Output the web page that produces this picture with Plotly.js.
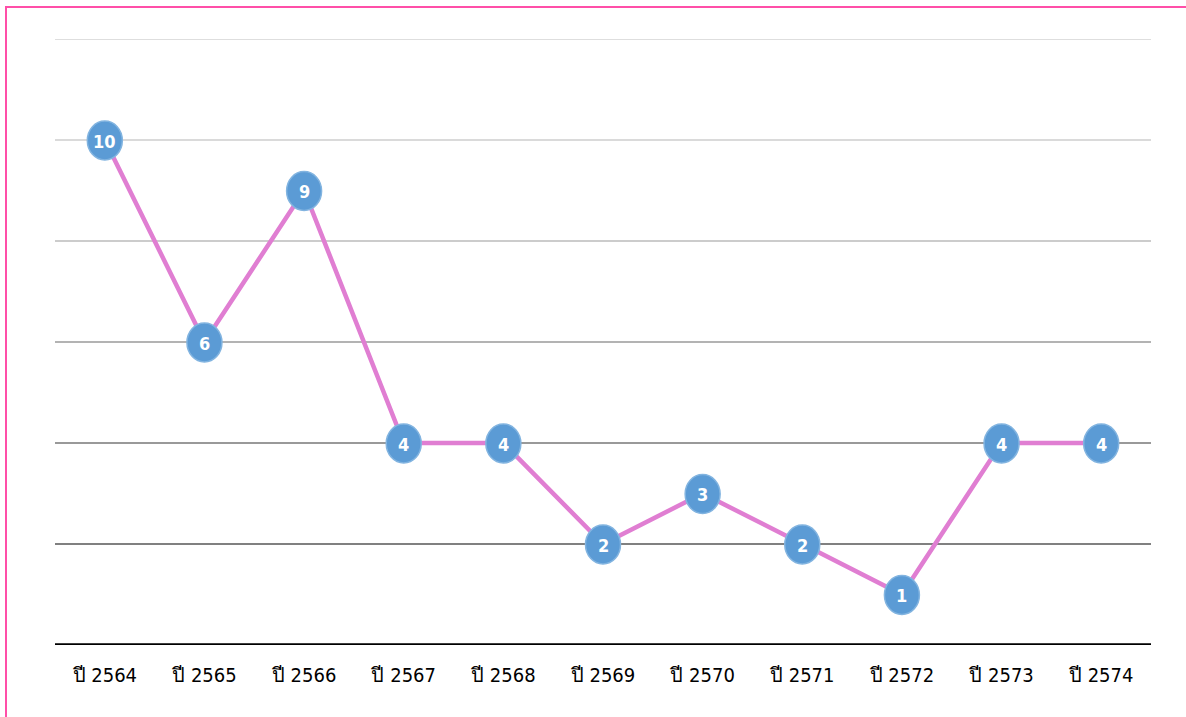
<!DOCTYPE html>
<html>
<head>
<meta charset="utf-8">
<script src="https://cdn.plot.ly/plotly-3.0.1.min.js"></script>
<style>
html,body{margin:0;padding:0;background:#fff;}
#wrap{position:absolute;left:0;top:0;width:1186px;height:717px;}
#chart{position:absolute;left:0;top:0;width:1186px;height:717px;}
#frame{position:absolute;left:5px;top:6px;width:1181px;height:711px;border-top:2px solid #ff4fa8;border-left:2px solid #ff4fa8;pointer-events:none;}
</style>
</head>
<body>
<div id="wrap"><div id="chart"></div><div id="frame"></div></div>
<script>
const categories = ["ปี 2564","ปี 2565","ปี 2566","ปี 2567","ปี 2568","ปี 2569","ปี 2570","ปี 2571","ปี 2572","ปี 2573","ปี 2574"];
const values = [10, 6, 9, 4, 4, 2, 3, 2, 1, 4, 4];
const gridValues = [2, 4, 6, 8, 10, 12];
const gridColors = ["#808080", "#999999", "#b3b3b3", "#cccccc", "#dadada", "#dedede"];

const shapes = gridValues.map((v, i) => ({
  type: "line", xref: "paper", yref: "y", x0: 0, x1: 1, y0: v, y1: v,
  line: {color: gridColors[i], width: 2}, layer: "below"
}));
shapes.push({type: "line", xref: "paper", yref: "y", x0: 0, x1: 1, y0: 0, y1: 0,
  line: {color: "#000000", width: 3.5}, layer: "above"});

// elliptical point markers, anchored at each data point
values.forEach((v, i) => {
  shapes.push({
    type: "circle", xref: "x", yref: "y",
    xsizemode: "pixel", ysizemode: "pixel",
    xanchor: categories[i], yanchor: v,
    x0: -17.5, x1: 17.5, y0: -20, y1: 19,
    fillcolor: "#5b9bd5", line: {color: "#82b4e0", width: 1.5}, layer: "above"
  });
});

const annotations = values.map((v, i) => ({
  x: categories[i], y: v, xref: "x", yref: "y", text: "<b>" + v + "</b>",
  showarrow: false, yshift: -1,
  font: {color: "#ffffff", size: 18, family: "'DejaVu Sans Condensed', 'Liberation Sans', sans-serif"}
}));

const trace = {
  x: categories, y: values, type: "scatter", mode: "lines",
  line: {color: "#e07ed2", width: 4.5},
  cliponaxis: false, hoverinfo: "skip"
};

const layout = {
  width: 1186, height: 717,
  margin: {l: 55, r: 35, t: 39, b: 72},
  paper_bgcolor: "#ffffff", plot_bgcolor: "#ffffff",
  showlegend: false,
  xaxis: {type: "category", range: [-0.5, 10.5], showgrid: false, zeroline: false, showline: false,
    ticks: "", ticklabelstandoff: 16,
    tickfont: {size: 20, color: "#000000", family: "'Liberation Sans Narrow', 'DejaVu Sans Condensed', sans-serif"}},
  yaxis: {range: [0, 12], showgrid: false, zeroline: false, showline: false, showticklabels: false, ticks: ""},
  shapes: shapes,
  annotations: annotations
};

Plotly.newPlot("chart", [trace], layout, {displayModeBar: false, staticPlot: true});
</script>
</body>
</html>
